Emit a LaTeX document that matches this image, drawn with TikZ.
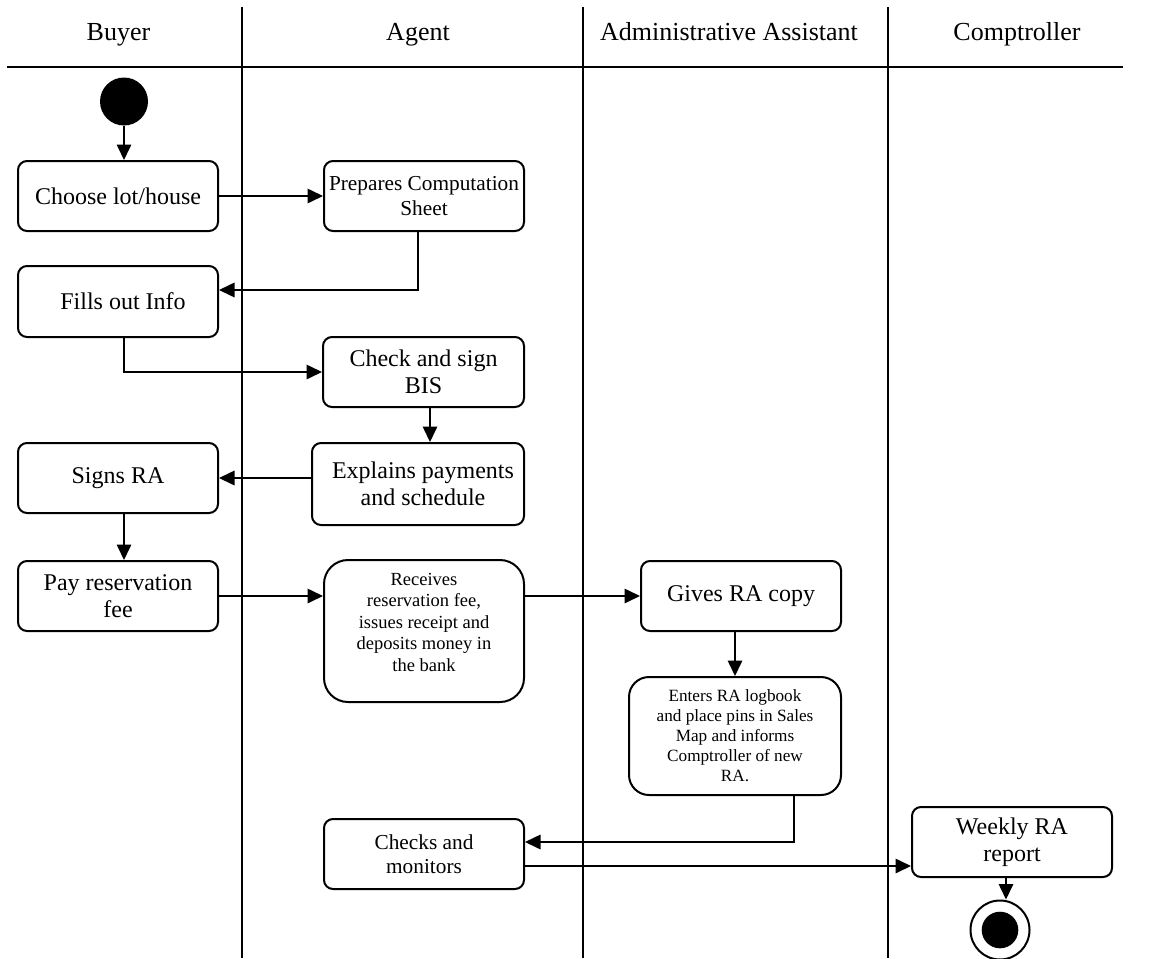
\documentclass[tikz,border=0pt]{standalone}
\usepackage{fontspec}
\setmainfont{Liberation Serif}
\usetikzlibrary{arrows.meta}

\tikzset{
  lane/.style={line width=1.6pt},
  hdr/.style={anchor=base, inner sep=0pt, font=\fontsize{26}{30}\selectfont},
  box/.style={draw, line width=2pt, rounded corners=9pt, minimum width=200pt,
              minimum height=70pt, align=center, inner sep=0pt,
              font=\fontsize{24}{27.5}\selectfont},
  midtext/.style={font=\fontsize{21.3}{24.5}\selectfont},
  smalltext/.style={font=\fontsize{18.5}{21.5}\selectfont},
  tinytext/.style={font=\fontsize{17.2}{20}\selectfont},
  arr/.style={line width=1.6pt, -{Triangle[length=15.5pt,width=14.5pt]}},
}

\begin{document}
\begin{tikzpicture}[x=1pt,y=-1pt]
  \path[use as bounding box, fill=white] (0,0) rectangle (1150,958);

  % swimlane headers
  \node (hbuyer) [hdr] at (118.5,41) {Buyer};
  \node (hagent) [hdr] at (418,41) {Agent};
  \node (hadmin) [hdr] at (729,41) {Administrative Assistant};
  \node (hcomp)  [hdr] at (1017,41) {Comptroller};

  % lane separators
  \draw[line width=2.2pt] (7,67) -- (1123,67);
  \draw[lane] (242,7) -- (242,958);
  \draw[lane] (583,7) -- (583,958);
  \draw[lane] (888,7) -- (888,958);

  % initial and final states
  \node (start) [circle, fill=black, minimum size=48pt, inner sep=0pt] at (124,101.5) {};
  \node (finish) [circle, draw, line width=2pt, minimum size=59pt, inner sep=0pt] at (1000,930) {};
  \node (finishdot) [circle, fill=black, minimum size=36.6pt, inner sep=0pt] at (finish.center) {};

  % activities
  \node (choose)   [box] at (118,196) {Choose lot/house};
  \node (prep)     [box, midtext] at (424,196) {Prepares Computation\\Sheet};
  \node (fills)    [box, minimum height=71pt] at (118,301.5) {\hspace*{10pt}Fills out Info};
  \node (check)    [box, minimum width=201pt] at (423.5,372) {Check and sign\\BIS};
  \node (explains) [box, minimum width=212pt, minimum height=82pt] at (418,484) {\hspace*{10pt}Explains payments\\\hspace*{10pt}and schedule};
  \node (signs)    [box] at (118,478) {Signs RA};
  \node (pay)      [box] at (118,596) {Pay reservation\\fee};
  \node (recv)     [box, rounded corners=24pt, minimum height=142pt] at (424,631) {};
  \node (recvtxt)  [smalltext, align=center, inner sep=0pt] at (424,622)
        {Receives\\reservation fee,\\issues receipt and\\deposits money in\\the bank};
  \node (gives)    [box] at (741,596) {Gives RA copy};
  \node (enters)   [box, tinytext, rounded corners=20pt, minimum width=212pt, minimum height=118pt] at (735,736)
        {Enters RA logbook\\and place pins in Sales\\Map and informs\\Comptroller of new\\RA.};
  \node (checks)   [box, midtext] at (424,854) {Checks and\\monitors};
  \node (weekly)   [box] at (1012,842) {Weekly RA\\report};

  % control flow
  \draw[arr] (start.south) -- (start.south |- choose.north);
  \draw[arr] (choose.east) -- (prep.west);
  \draw[arr] ([xshift=-6pt]prep.south) |- ([yshift=11.5pt]fills.east);
  \draw[arr] ([xshift=6pt]fills.south) |- (check.west);
  \draw[arr] ([xshift=6.5pt]check.south) -- ([xshift=6.5pt]check.south |- explains.north);
  \draw[arr] (explains.west |- signs.east) -- (signs.east);
  \draw[arr] ([xshift=6pt]signs.south) -- ([xshift=6pt]pay.north);
  \draw[arr] (pay.east) -- (pay.east -| recv.west);
  \draw[arr] (recv.east |- gives.west) -- (gives.west);
  \draw[arr] (enters.north |- gives.south) -- (enters.north);
  \draw[arr] ([xshift=59pt]enters.south) |- ([yshift=12pt]checks.east);
  \draw[arr] ([yshift=-12pt]checks.east) -- ([yshift=-12pt]checks.east -| weekly.west);
  \draw[arr] ([xshift=-6pt]weekly.south) -- ([xshift=-6pt]weekly.south |- finish.north);
\end{tikzpicture}
\end{document}
